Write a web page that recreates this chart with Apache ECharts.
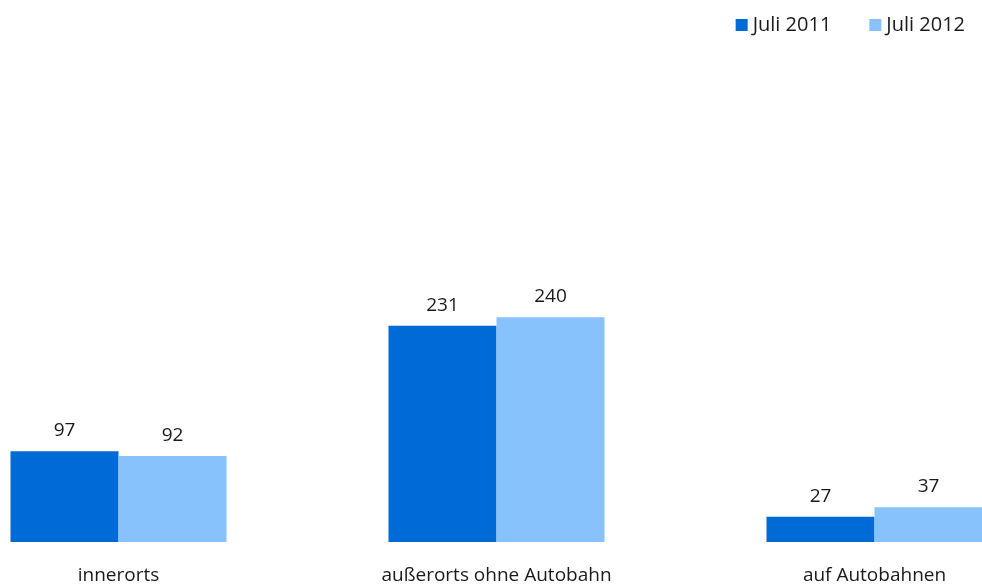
<!DOCTYPE html>
<html>
<head>
<meta charset="utf-8">
<script src="https://cdn.jsdelivr.net/npm/echarts@6/dist/echarts.min.js"></script>
<style>
  html, body { margin: 0; padding: 0; background: #fff; }
  #chart { width: 982px; height: 585px; }
</style>
</head>
<body>
<div id="chart"></div>
<script>
// Kategorien und Werte
var categories = ['innerorts', 'außerorts ohne Autobahn', 'auf Autobahnen'];
var juli2011 = [97, 231, 27];
var juli2012 = [92, 240, 37];

var fontFamily = '"Open Sans", "Noto Sans", sans-serif';

var myChart = echarts.init(document.getElementById('chart'));
myChart.setOption({
    animation: false,
    textStyle: { fontFamily: fontFamily },
    legend: {
        right: 12,
        top: 10,
        itemWidth: 12,
        itemHeight: 12,
        itemGap: 38,
        icon: 'rect',
        textStyle: { fontSize: 20, color: '#1a1a1a', fontFamily: fontFamily },
        data: ['Juli 2011', 'Juli 2012']
    },
    // Kategorien direkt auf den Rand gelegt, damit die Gruppen bis an den Bildrand reichen
    grid: { left: 118.5, right: 107.5, top: 74, bottom: 41, containLabel: false },
    xAxis: {
        type: 'category',
        data: categories,
        boundaryGap: false,
        axisLine: { show: false },
        axisTick: { show: false },
        axisLabel: { fontSize: 19, color: '#1a1a1a', margin: 24, fontFamily: fontFamily }
    },
    yAxis: {
        type: 'value',
        min: 0,
        max: 500,
        show: false,
        splitLine: { show: false }
    },
    series: [{
        name: 'Juli 2011',
        type: 'bar',
        data: juli2011,
        barGap: '0%',
        barWidth: 108,
        itemStyle: { color: '#006ad6' },
        label: { show: true, position: 'top', distance: 11, fontSize: 19, color: '#1a1a1a', fontFamily: fontFamily }
    }, {
        name: 'Juli 2012',
        type: 'bar',
        data: juli2012,
        barGap: '0%',
        barWidth: 108,
        itemStyle: { color: '#88c2fd' },
        label: { show: true, position: 'top', distance: 11, fontSize: 19, color: '#1a1a1a', fontFamily: fontFamily }
    }]
});
</script>
</body>
</html>
